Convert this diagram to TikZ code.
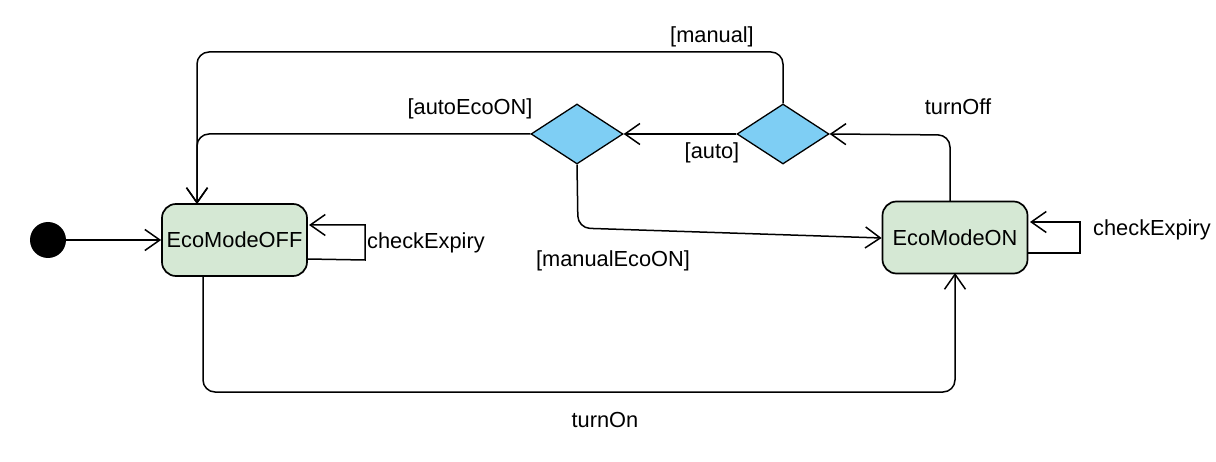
\documentclass[tikz,border=0pt]{standalone}
\usepackage{fontspec}
\setmainfont{Liberation Sans}
\usetikzlibrary{arrows.meta,shapes.geometric}
\definecolor{stategreen}{HTML}{D5E8D4}
\definecolor{choiceblue}{HTML}{7ECEF4}
\tikzset{
  state/.style={draw=black, line width=1.7pt, fill=stategreen, rounded corners=14pt,
    minimum width=145pt, minimum height=72pt, inner sep=0pt, font=\fontsize{21.8}{26}\selectfont},
  choice/.style={draw=black, line width=1.3pt, fill=choiceblue, diamond, aspect=1.53,
    minimum width=92pt, minimum height=60pt, inner sep=0pt},
  flow/.style={draw=black, line width=1.5pt, rounded corners=12pt,
    -{Straight Barb[length=15pt,width=21pt,line width=1.5pt]}},
  lbl/.style={font=\fontsize{21.8}{26}\selectfont, inner sep=0pt}
}
\begin{document}
\begin{tikzpicture}[x=1pt,y=-1pt]
\useasboundingbox (0,0) rectangle (1216,462);
\node[circle, fill=black, minimum size=36pt, inner sep=0pt] (init) at (48,240) {};
\node[state] (off) at (234.5,240) {EcoModeOFF};
\node[state] (on) at (955,237.5) {EcoModeON};
\node[choice] (d1) at (577,134) {};
\node[choice] (d2) at (783,134) {};

\coordinate (offtop) at (197,204);
\coordinate (offbot) at (203,276);
\coordinate (onbot) at (955,273);
\coordinate (ontop) at (950,202);

% initial
\draw[flow] (init.east) -- (off.west);
% self loops
\draw[flow, rounded corners=0pt] (307,259) -- (365,260) -- (365,225) -- (309,225);
\node[lbl, anchor=west] (ce1) at (367,243) {checkExpiry};
\draw[flow, rounded corners=0pt] (1028,253) -- (1080,253) -- (1080,222) -- (1030,222);
\node[lbl, anchor=west] (ce2) at (1093,230) {checkExpiry};
% turnOn
\draw[flow] (offbot) -- (203,392) -- (955,392) -- (onbot);
\node[lbl] (ton) at (605,420) {turnOn};
% turnOff
\draw[flow] (ontop) -- (950,135) -- (d2.east);
\node[lbl] (toff) at (958,107) {turnOff};
% auto
\draw[flow] (d2.west) -- (d1.east);
\node[lbl] (auto) at (712,153) {[auto]};
% manual
\draw[flow] (d2.north) -- (783,52) -- (197,52) -- (offtop);
\node[lbl] (man) at (712,37) {[manual]};
% autoEcoON
\draw[flow] (d1.west) -- (197,134) -- (offtop);
\node[lbl] (aeo) at (470,109) {[autoEcoON]};
% manualEcoON
\draw[flow] (d1.south) -- (578,228) -- (on.west |- 0,238);
\node[lbl] (meo) at (613,261) {[manualEcoON]};
\end{tikzpicture}
\end{document}
